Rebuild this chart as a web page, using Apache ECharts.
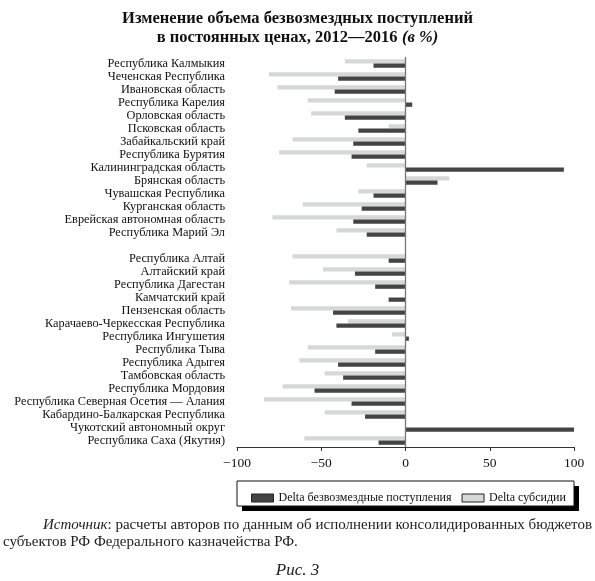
<!DOCTYPE html>
<html lang="ru">
<head>
    <meta charset="UTF-8">
    <title>Изменение объема безвозмездных поступлений</title>
    <script type="text/javascript" src="https://cdn.jsdelivr.net/npm/echarts@6/dist/echarts.min.js"></script>
    <style>
        body { margin: 0; background: #fff; }
    </style>
</head>
<body>
<div id="main" style="width: 595px; height:581px;"></div>

<script>
    // регионы сверху вниз, пустая строка - разрыв между группами
    var regions = [
        'Республика Калмыкия', 'Чеченская Республика', 'Ивановская область', 'Республика Карелия',
        'Орловская область', 'Псковская область', 'Забайкальский край', 'Республика Бурятия',
        'Калининградская область', 'Брянская область', 'Чувашская Республика', 'Курганская область',
        'Еврейская автономная область', 'Республика Марий Эл',
        '',
        'Республика Алтай', 'Алтайский край', 'Республика Дагестан', 'Камчатский край',
        'Пензенская область', 'Карачаево-Черкесская Республика', 'Республика Ингушетия',
        'Республика Тыва', 'Республика Адыгея', 'Тамбовская область', 'Республика Мордовия',
        'Республика Северная Осетия — Алания', 'Кабардино-Балкарская Республика',
        'Чукотский автономный округ', 'Республика Саха (Якутия)'
    ];

    // Delta безвозмездные поступления, %
    var deltaTransfers = [
        -19, -40, -42, 4, -36, -28, -31, -32, 94, 19, -19, -26, -31, -23,
        '-',
        -10, -30, -18, -10, -43, -41, 2, -18, -40, -37, -54, -32, -24, 101, -16
    ];

    // Delta субсидии, %
    var deltaSubsidies = [
        -36, -81, -76, -58, -56, -10, -67, -75, -23, 26, -28, -61, -79, -41,
        '-',
        -67, -49, -69, 0, -68, -34, -8, -58, -63, -48, -73, -84, -48, 0, -60
    ];

    var xTicks = [-100, -50, 0, 50, 100];

    var serif = "'Liberation Serif', 'DejaVu Serif', serif";

    var myChart = echarts.init(document.getElementById('main'));

    var option = {
        backgroundColor: '#fff',
        animation: false,
        textStyle: { fontFamily: serif },
        title: {
            left: 'center',
            top: 4,
            text: '{b|Изменение объема безвозмездных поступлений}\n{b|в постоянных ценах, 2012—2016} {i|(в %)}',
            textStyle: {
                rich: {
                    b: { fontFamily: serif, fontWeight: 'bold', fontSize: 16.5, color: '#111', lineHeight: 19 },
                    i: { fontFamily: serif, fontStyle: 'italic', fontSize: 16.5, color: '#111', lineHeight: 19 }
                }
            }
        },
        legend: {
            left: 246,
            top: 487,
            icon: 'rect',
            itemWidth: 22,
            itemHeight: 8,
            itemGap: 10,
            data: ['Delta безвозмездные поступления', 'Delta субсидии'],
            itemStyle: { borderColor: '#222', borderWidth: 1 },
            textStyle: { fontFamily: serif, fontSize: 12, color: '#111' }
        },
        grid: {
            left: 237,
            right: 21,
            top: 57,
            bottom: 134
        },
        xAxis: {
            type: 'value',
            min: xTicks[0],
            max: xTicks[xTicks.length - 1],
            interval: 50,
            splitLine: { show: false },
            axisLine: { show: true, onZero: false, lineStyle: { color: '#333', width: 1 } },
            axisTick: { show: true, length: 4, lineStyle: { color: '#333' } },
            axisLabel: {
                margin: 9,
                fontFamily: serif,
                fontSize: 13.5,
                color: '#111',
                formatter: function (v) { return String(v).replace('-', '−'); }
            }
        },
        yAxis: {
            type: 'category',
            inverse: true,
            data: regions,
            axisLine: { show: false },
            axisTick: { show: false },
            axisLabel: {
                interval: 0,
                margin: 12,
                fontFamily: serif,
                fontSize: 12.3,
                color: '#111'
            }
        },
        series: [
            {
                name: 'Delta субсидии',
                type: 'bar',
                barWidth: 4.3,
                barGap: '0%',
                itemStyle: { color: '#d6d8d8' },
                data: deltaSubsidies
            },
            {
                name: 'Delta безвозмездные поступления',
                type: 'bar',
                barWidth: 4.3,
                barGap: '0%',
                itemStyle: { color: '#444' },
                data: deltaTransfers,
                markLine: {
                    silent: true,
                    symbol: ['none', 'none'],
                    label: { show: false },
                    lineStyle: { color: '#777', width: 1.3, type: 'solid' },
                    data: [{ xAxis: 0 }]
                }
            }
        ],
        graphic: [
            {
                type: 'rect',
                z: -2,
                shape: { x: 242, y: 486, width: 337, height: 25 },
                style: { fill: '#000' }
            },
            {
                type: 'rect',
                z: -1,
                shape: { x: 237, y: 481, width: 337, height: 25 },
                style: { fill: '#fff', stroke: '#111', lineWidth: 1 }
            },
            {
                type: 'text',
                left: 43,
                top: 518,
                style: {
                    text: '{i|Источник}: расчеты авторов по данным об исполнении консолидированных бюджетов',
                    fontFamily: serif,
                    fontSize: 15,
                    fill: '#222',
                    rich: { i: { fontFamily: serif, fontStyle: 'italic', fontSize: 15, fill: '#222' } }
                }
            },
            {
                type: 'text',
                left: 3,
                top: 535,
                style: {
                    text: 'субъектов РФ Федерального казначейства РФ.',
                    fontFamily: serif,
                    fontSize: 15,
                    fill: '#222'
                }
            },
            {
                type: 'text',
                left: 'center',
                top: 562,
                style: {
                    text: 'Рис. 3',
                    fontFamily: serif,
                    fontStyle: 'italic',
                    fontSize: 17,
                    fill: '#222'
                }
            }
        ]
    };

    myChart.setOption(option);
</script>
</body>
</html>
